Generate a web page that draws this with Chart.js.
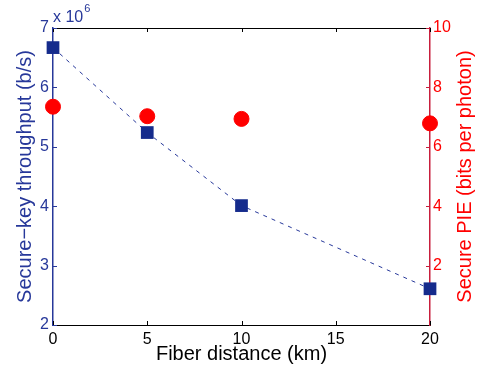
<!DOCTYPE html>
<html>
<head>
  <title>Secure-key throughput vs fiber distance</title>
  <script src="https://cdn.jsdelivr.net/npm/chart.js"></script>
  <style>
    body { margin: 0; background: #fff; }
  </style>
</head>
<body>
  <canvas id="chart" width="477" height="366"></canvas>

  <script>
    const distances = [0, 5, 10, 20];
    const throughput = [6.67, 5.24, 4.01, 2.61];   // x 10^6 b/s
    const pie = [7.35, 7.03, 6.94, 6.79];          // bits per photon
    const xTicks = [0, 5, 10, 15, 20];
    const leftTicks = [2, 3, 4, 5, 6, 7];
    const rightTicks = [2, 4, 6, 8, 10];

    const BLUE = '#27389a';
    const NAVY = '#152b8c';
    const RED = '#ff0000';
    const CRIMSON = '#c81e3c';
    const FONT = 'Liberation Sans, Arial, sans-serif';

    // MATLAB-style inward tick marks, top box line, exponent label and right title
    const matlabAxes = {
      id: 'matlabAxes',
      afterDraw(chart) {
        const ctx = chart.ctx;
        const a = chart.chartArea;
        const x = chart.scales.x, yl = chart.scales.y, yr = chart.scales.y2;
        const len = 4;
        ctx.save();
        ctx.lineWidth = 1;
        ctx.strokeStyle = '#000';
        ctx.beginPath();
        ctx.moveTo(a.left, a.top + 0.5);
        ctx.lineTo(a.right, a.top + 0.5);
        xTicks.forEach(v => {
          const px = Math.round(x.getPixelForValue(v)) + 0.5;
          ctx.moveTo(px, a.bottom); ctx.lineTo(px, a.bottom - len);
          ctx.moveTo(px, a.top); ctx.lineTo(px, a.top + len);
        });
        ctx.stroke();

        ctx.strokeStyle = BLUE;
        ctx.beginPath();
        leftTicks.forEach(v => {
          const py = Math.round(yl.getPixelForValue(v)) + 0.5;
          ctx.moveTo(a.left, py); ctx.lineTo(a.left + len, py);
        });
        ctx.stroke();

        ctx.strokeStyle = CRIMSON;
        ctx.beginPath();
        rightTicks.forEach(v => {
          const py = Math.round(yr.getPixelForValue(v)) + 0.5;
          ctx.moveTo(a.right, py); ctx.lineTo(a.right - len, py);
        });
        ctx.stroke();

        ctx.fillStyle = BLUE;
        ctx.textBaseline = 'alphabetic';
        ctx.textAlign = 'left';
        ctx.font = '16px ' + FONT;
        ctx.fillText('x 10', a.left, a.top - 6);
        const w = ctx.measureText('x 10').width;
        ctx.font = '11px ' + FONT;
        ctx.fillText('6', a.left + w + 1, a.top - 16);

        // right axis title, read bottom-to-top like MATLAB
        ctx.translate(chart.width - 12, (a.top + a.bottom) / 2);
        ctx.rotate(-Math.PI / 2);
        ctx.fillStyle = RED;
        ctx.font = '20px ' + FONT;
        ctx.textAlign = 'center';
        ctx.textBaseline = 'middle';
        ctx.fillText('Secure PIE (bits per photon)', 0, 0);
        ctx.restore();
      }
    };

    new Chart(document.getElementById('chart').getContext('2d'), {
      type: 'scatter',
      data: {
        datasets: [
          {
            label: 'Secure PIE',
            data: distances.map((d, i) => ({ x: d, y: pie[i] })),
            yAxisID: 'y2',
            pointStyle: 'circle',
            pointRadius: 7.5,
            backgroundColor: RED,
            borderColor: RED,
            borderWidth: 1,
            showLine: false,
            clip: false,
            order: 2
          },
          {
            label: 'Secure-key throughput',
            data: distances.map((d, i) => ({ x: d, y: throughput[i] })),
            yAxisID: 'y',
            pointStyle: 'rect',
            pointRadius: 9,
            pointBackgroundColor: NAVY,
            pointBorderColor: NAVY,
            pointBorderWidth: 0,
            borderColor: BLUE,
            borderWidth: 1,
            showLine: true,
            borderDash: [4, 5],
            clip: false,
            order: 1
          }
        ]
      },
      options: {
        responsive: false,
        animation: false,
        layout: { padding: { top: 28, right: 0, left: 0, bottom: 0 } },
        plugins: { legend: { display: false }, tooltip: { enabled: false } },
        elements: { line: { tension: 0 } },
        scales: {
          x: {
            type: 'linear',
            min: 0, max: 20,
            afterBuildTicks: s => { s.ticks = xTicks.map(v => ({ value: v })); },
            afterFit: s => { s.height = 41; },
            grid: { display: false, drawTicks: false },
            border: { display: true, color: '#000', width: 1 },
            ticks: { color: '#000', padding: 5, font: { family: FONT, size: 16 } },
            title: {
              display: true, text: 'Fiber distance (km)', color: '#000',
              padding: { top: 0, bottom: 0 },
              font: { family: FONT, size: 20, lineHeight: 1.2 }
            }
          },
          y: {
            type: 'linear', position: 'left',
            min: 2, max: 7,
            afterBuildTicks: s => { s.ticks = leftTicks.map(v => ({ value: v })); },
            afterFit: s => { s.width = 53; },
            grid: { display: false, drawTicks: false },
            border: { display: true, color: BLUE, width: 1.5 },
            ticks: { color: BLUE, padding: 4, font: { family: FONT, size: 16 } },
            title: {
              display: true, text: 'Secure\u2212key throughput (b/s)', color: BLUE,
              padding: { top: 13, bottom: 0 },
              font: { family: FONT, size: 20, lineHeight: 1.2 }
            }
          },
          y2: {
            type: 'linear', position: 'right',
            min: 0, max: 10,
            afterBuildTicks: s => { s.ticks = rightTicks.map(v => ({ value: v })); },
            afterFit: s => { s.width = 47; },
            grid: { display: false, drawTicks: false },
            border: { display: true, color: CRIMSON, width: 1.5 },
            ticks: { color: RED, padding: 3, font: { family: FONT, size: 16 } },
            title: { display: false }
          }
        }
      },
      plugins: [matlabAxes]
    });
  </script>
</body>
</html>
